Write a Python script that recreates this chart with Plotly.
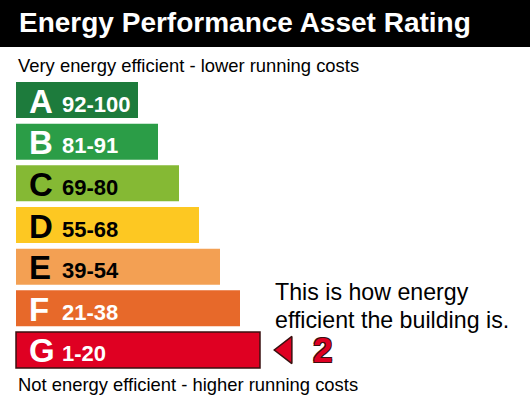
import plotly.graph_objects as go

W, H = 530, 398

# ---- data ----
ratings = ["A", "B", "C", "D", "E", "F", "G"]
bands = ["92-100", "81-91", "69-80", "55-68", "39-54", "21-38", "1-20"]
bar_lengths = [122, 142, 163, 183, 204, 224, 244]
bar_colors = ["#1d7b3c", "#2b9d47", "#85b934", "#fdc822", "#f3a053", "#e7692a", "#df0022"]
text_colors = ["white", "white", "black", "black", "black", "white", "white"]
current_rating = "G"
current_score = 2

title = "Energy Performance Asset Rating"
top_label = "Very energy efficient - lower running costs"
bottom_label = "Not energy efficient - higher running costs"
note_lines = ["This is how energy", "efficient the building is."]

FONT = "Liberation Sans, Arial, sans-serif"
BAR_LEFT = 16


def py(p):
    return 1 - p / H


fig = go.Figure()

line_w = [1.5 if r == current_rating else 0 for r in ratings]
fig.add_trace(go.Bar(
    y=ratings, x=bar_lengths, base=BAR_LEFT, orientation="h",
    marker=dict(color=bar_colors, line=dict(color="#3a1010", width=line_w)),
    hoverinfo="skip", showlegend=False,
))

# pointer arrow at current rating
fig.add_trace(go.Scatter(
    x=[286], y=[current_rating], mode="markers",
    marker=dict(symbol="triangle-left", size=23.5, color="#df0022",
                line=dict(color="#3a1010", width=1.5)),
    hoverinfo="skip", showlegend=False,
))

ann = []
for r, b, tc in zip(ratings, bands, text_colors):
    ann.append(dict(x=27, y=r, xref="x", yref="y", text=f"<b>{r}</b>", showarrow=False,
                    xanchor="left", yanchor="middle", yshift=-1,
                    font=dict(family=FONT, size=33, color=tc)))
    ann.append(dict(x=60, y=r, xref="x", yref="y", text=f"<b>{b}</b>", showarrow=False,
                    xanchor="left", yanchor="middle", yshift=-4,
                    font=dict(family=FONT, size=22, color=tc)))

ann.append(dict(x=311, y=current_rating, xref="x", yref="y", text=f"<b>{current_score}</b>",
                showarrow=False, xanchor="left", yanchor="middle", yshift=0,
                font=dict(family=FONT, size=35, color="#df0022",
                          shadow="1px 1px 0 #3a1010, -1px -1px 0 #3a1010, 1px -1px 0 #3a1010, -1px 1px 0 #3a1010")))

ann.append(dict(x=17 / W, y=py(23), xref="paper", yref="paper", text=f"<b>{title}</b>",
                showarrow=False, xanchor="left", yanchor="middle",
                font=dict(family=FONT, size=28, color="white")))
ann.append(dict(x=16 / W, y=py(66), xref="paper", yref="paper", text=top_label,
                showarrow=False, xanchor="left", yanchor="middle",
                font=dict(family=FONT, size=18.4, color="black")))
ann.append(dict(x=16 / W, y=py(384), xref="paper", yref="paper", text=bottom_label,
                showarrow=False, xanchor="left", yanchor="middle",
                font=dict(family=FONT, size=18.4, color="black")))
for i, t in enumerate(note_lines):
    ann.append(dict(x=273 / W, y=py(292 + 28 * i), xref="paper", yref="paper", text=t,
                    showarrow=False, xanchor="left", yanchor="middle",
                    font=dict(family=FONT, size=23.2, color="black")))

fig.update_layout(
    width=W, height=H, margin=dict(l=0, r=0, t=0, b=0),
    paper_bgcolor="white", plot_bgcolor="white",
    bargap=0.136,
    xaxis=dict(range=[0, W], visible=False, fixedrange=True),
    yaxis=dict(categoryorder="array", categoryarray=ratings,
               range=[len(ratings) - 0.5, -0.5], autorange=False,
               domain=[py(370.8), py(79.2)], visible=False, fixedrange=True),
    shapes=[dict(type="rect", xref="paper", yref="paper", x0=0, x1=1, y0=py(47), y1=1,
                 fillcolor="black", line=dict(width=0), layer="below")],
    annotations=ann,
)

fig.write_html(
    "out.html",
    config={"displayModeBar": False},
    post_script="document.body.style.margin='0';document.body.style.overflow='hidden';",
)
